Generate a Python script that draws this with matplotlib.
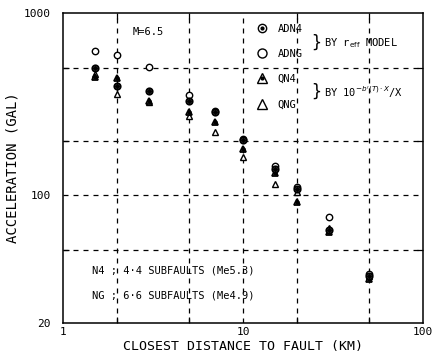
import matplotlib
matplotlib.use("Agg")
import matplotlib.pyplot as plt
from matplotlib.lines import Line2D
from matplotlib.legend_handler import HandlerTuple

plt.rcParams['font.family'] = ['DejaVu Sans Mono']

# distances (km)
dist = [1.5, 2, 3, 5, 7, 10, 15, 20, 30, 50]
# peak acceleration (gal)
adn4 = [500, 397, 376, 329, 286, 201, 140, 108, 65, 36]
adng = [618, 590, 505, 357, 290, 205, 145, 111, 76, 37]
qn4 = [445, 440, 329, 286, 252, 180, 132, 92, 63, 35]
qng = [465, 360, 325, 271, 222, 163, 116, 104, 66, 36]

x_grid = [2, 5, 10, 20, 50]
y_grid = [50, 100, 200, 500]

fig = plt.figure(figsize=(4.32, 3.56), dpi=100)
ax = fig.add_axes([63 / 432, 1 - 323 / 356, 360 / 432, 310 / 356])
ax.set_xscale('log')
ax.set_yscale('log')
ax.set_xlim(1, 100)
ax.set_ylim(20, 1000)

for gx in x_grid:
    ax.axvline(gx, color='black', lw=0.9, ls=(0, (4, 4)), zorder=1)
for gy in y_grid:
    ax.axhline(gy, color='black', lw=0.9, ls=(0, (4, 4)), zorder=1)

ms = 4.6
kw = dict(ls='none', color='black', zorder=3)
ax.plot(dist, adng, marker='o', ms=ms, mfc='white', mew=1.0, **kw)
ax.plot(dist, qng, marker='^', ms=ms, mfc='white', mew=1.0, **kw)
ax.plot(dist, qn4, marker='^', ms=ms, mfc='white', mew=1.3, **kw)
ax.plot(dist, qn4, marker='o', ms=2.3, **kw)
ax.plot(dist, adn4, marker='o', ms=ms, mfc='white', mew=1.3, **kw)
ax.plot(dist, adn4, marker='o', ms=2.6, **kw)

ax.set_xticks([1, 10, 100])
ax.set_xticklabels(['1', '10', '100'])
ax.set_xticks(x_grid, minor=True)
ax.set_yticks([20, 100, 1000])
ax.set_yticklabels(['20', '100', '1000'])
ax.set_yticks(y_grid, minor=True)
ax.tick_params(which='both', direction='in', top=True, right=True, labelsize=8)
ax.tick_params(which='major', length=0)
ax.tick_params(axis='x', which='major', pad=3)
ax.tick_params(axis='y', which='major', pad=9)
ax.tick_params(which='minor', length=4, width=0.9, labelbottom=False, labelleft=False)
for sp in ax.spines.values():
    sp.set_linewidth(1.1)

ax.set_xlabel('CLOSEST DISTANCE TO FAULT (KM)', fontsize=9.5, labelpad=2)
ax.set_ylabel('ACCELERATION (GAL)', fontsize=10, labelpad=3)

ax.text(0.194, 0.938, 'M=6.5', transform=ax.transAxes, fontsize=7.5, va='center')

h_adn4 = (Line2D([], [], marker='o', ms=6, mfc='white', mew=1.0, color='black', ls='none'),
          Line2D([], [], marker='o', ms=2, color='black', ls='none'))
h_adng = Line2D([], [], marker='o', ms=6.5, mfc='white', mew=1.0, color='black', ls='none')
h_qn4 = (Line2D([], [], marker='^', ms=6.5, mfc='white', mew=1.0, color='black', ls='none'),
         Line2D([], [], marker='o', ms=2, color='black', ls='none'))
h_qng = Line2D([], [], marker='^', ms=6.5, mfc='white', mew=1.0, color='black', ls='none')
leg = ax.legend([h_adn4, h_adng, h_qn4, h_qng], ['ADN4', 'ADNG', 'QN4', 'QNG'],
                handler_map={tuple: HandlerTuple(ndivide=1, pad=0)},
                loc='upper left', bbox_to_anchor=(0.51, 0.995), frameon=False,
                fontsize=7.5, handlelength=1.2, handletextpad=0.9, labelspacing=1.45)

ax.text(0.69, 0.903, '}', transform=ax.transAxes, fontsize=12, va='center')
ax.text(0.725, 0.903, r'BY r$_{\rm eff}$ MODEL', transform=ax.transAxes, fontsize=7.5, va='center')
ax.text(0.69, 0.745, '}', transform=ax.transAxes, fontsize=12, va='center')
ax.text(0.725, 0.745, r"BY 10$^{-b'(T)\cdot X}$/X", transform=ax.transAxes, fontsize=7.5, va='center')

ax.text(0.08, 0.17, 'N4 ; 4·4 SUBFAULTS (Me5.3)', transform=ax.transAxes, fontsize=7.5, va='center')
ax.text(0.08, 0.089, 'NG ; 6·6 SUBFAULTS (Me4.9)', transform=ax.transAxes, fontsize=7.5, va='center')

fig.savefig('out.png', dpi=100)
